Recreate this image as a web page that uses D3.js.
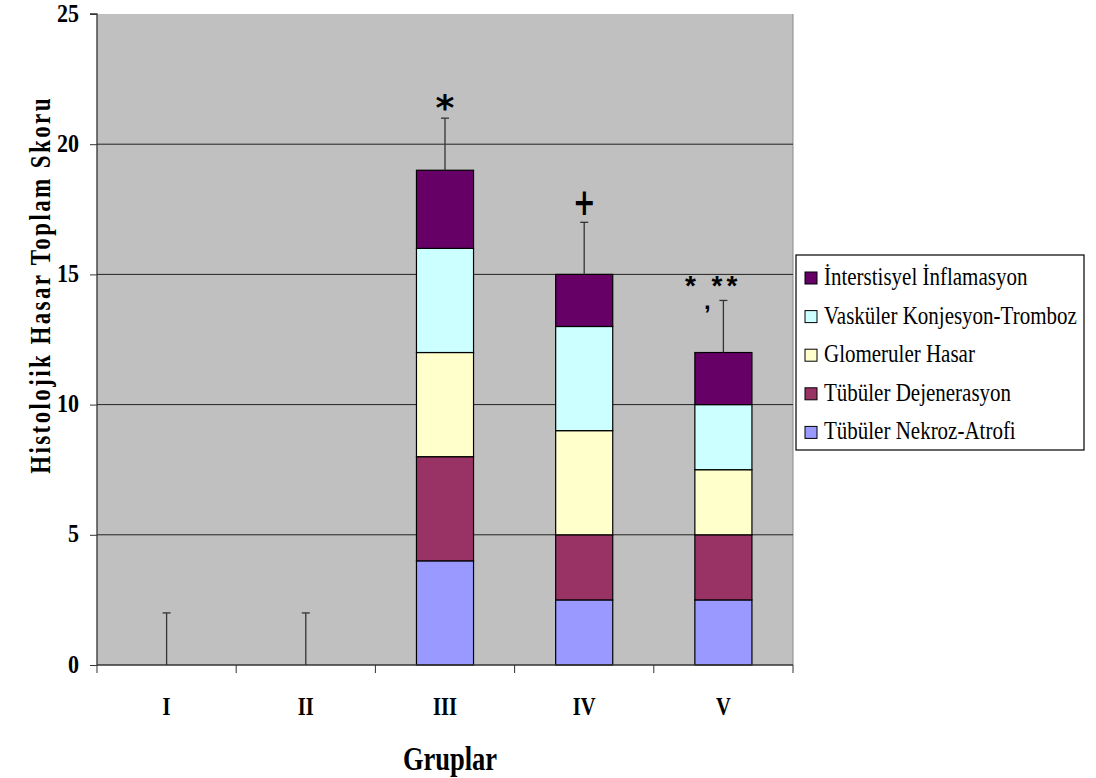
<!DOCTYPE html>
<html><head><meta charset="utf-8">
<script src="https://cdn.jsdelivr.net/npm/d3@7"></script>
<style>body{margin:0;background:#fff}svg{display:block}</style>
</head><body>
<svg id="c" width="1096" height="778"></svg>
<script>
const groups = ["I","II","III","IV","V"];
const seriesNames = ["Tübüler Nekroz-Atrofi","Tübüler Dejenerasyon","Glomeruler Hasar","Vasküler Konjesyon-Tromboz","İnterstisyel İnflamasyon"];
const nekroz       = [0,0,4,2.5,2.5];
const dejenerasyon = [0,0,4,2.5,2.5];
const glomeruler   = [0,0,4,4,2.5];
const vaskuler     = [0,0,4,4,2.5];
const interstisyel = [0,0,3,2,2];
const errorTop     = [2,2,21,17,14];
const yTicks = [0,5,10,15,20,25];
const colors = ["#9999FF","#993366","#FFFFCC","#CCFFFF","#660066"];

const svg = d3.select("#c");
const L=97,R=793,T=14,B=665;
const x = d3.scaleBand().domain(groups).range([L,R]).paddingInner(0.59).paddingOuter(0.295);
const xb = d3.scaleBand().domain(groups).range([L,R]);
const y = d3.scaleLinear().domain([0,25]).range([B,T]);

svg.append("rect").attr("x",L).attr("y",T).attr("width",R-L).attr("height",B-T).attr("fill","#C0C0C0");
svg.append("line").attr("x1",R).attr("x2",R).attr("y1",T).attr("y2",B).attr("stroke","#8a8a8a");
svg.append("g").selectAll("line").data(yTicks.filter(d=>d>0 && d<25)).join("line")
  .attr("x1",L).attr("x2",R).attr("y1",d=>y(d)).attr("y2",d=>y(d)).attr("stroke","#222").attr("stroke-width",1);

const rows = groups.map((g,i)=>({g, nekroz:nekroz[i], dejenerasyon:dejenerasyon[i], glomeruler:glomeruler[i], vaskuler:vaskuler[i], interstisyel:interstisyel[i]}));
const keys = ["nekroz","dejenerasyon","glomeruler","vaskuler","interstisyel"];
const stack = d3.stack().keys(keys)(rows);
svg.append("g").selectAll("g").data(stack).join("g").attr("fill",(d,i)=>colors[i])
  .selectAll("rect").data(d=>d.filter(p=>p[1]-p[0]>0)).join("rect")
  .attr("x",d=>x(d.data.g)).attr("width",x.bandwidth())
  .attr("y",d=>y(d[1])).attr("height",d=>y(d[0])-y(d[1]))
  .attr("stroke","#000").attr("stroke-width",1.2);

const eg = svg.append("g").attr("stroke","#333").attr("stroke-width",1.3);
groups.forEach((g,i)=>{
  const total = nekroz[i]+dejenerasyon[i]+glomeruler[i]+vaskuler[i]+interstisyel[i];
  const cx = x(g)+x.bandwidth()/2;
  eg.append("line").attr("x1",cx).attr("x2",cx).attr("y1",y(total)).attr("y2",y(errorTop[i]));
  eg.append("line").attr("x1",cx-4).attr("x2",cx+4).attr("y1",y(errorTop[i])).attr("y2",y(errorTop[i]));
});

const ya = svg.append("g").attr("transform",`translate(${L},0)`)
  .call(d3.axisLeft(y).tickValues(yTicks).tickSize(7).tickPadding(10));
ya.select(".domain").attr("stroke","#333").attr("stroke-width",1.3).attr("d",`M-7,${T}H0V${B}`);
ya.selectAll(".tick line").attr("stroke","#333");
ya.selectAll(".tick text").attr("x",null).attr("dy",null)
  .attr("transform","translate(-18,7) scale(1,1.1)")
  .style("font-family","'Liberation Serif',serif").style("font-weight","bold")
  .style("font-size","22px").attr("fill","#000");

const xa = svg.append("g").attr("transform",`translate(0,${B})`);
xa.append("line").attr("x1",L).attr("x2",R).attr("stroke","#333").attr("stroke-width",1.3);
xa.selectAll("line.t").data(d3.range(groups.length+1)).join("line").attr("class","t")
  .attr("x1",i=>L+i*xb.step()).attr("x2",i=>L+i*xb.step()).attr("y1",0).attr("y2",8).attr("stroke","#333");
xa.selectAll("text").data(groups).join("text")
  .attr("transform",d=>`translate(${xb(d)+xb.bandwidth()/2},50) scale(1,1.25)`)
  .attr("text-anchor","middle").style("font-family","'Liberation Serif',serif").style("font-weight","bold")
  .style("font-size","20.5px").text(d=>d);

svg.append("text").attr("transform","translate(450,770) scale(1,1.28)").attr("text-anchor","middle")
  .style("font-family","'Liberation Serif',serif").style("font-weight","bold").style("font-size","26.5px").text("Gruplar");
svg.append("text").attr("transform","translate(50,285) rotate(-90) scale(1,1.3)").attr("text-anchor","middle")
  .style("font-family","'Liberation Serif',serif").style("font-weight","bold").style("font-size","23px")
  .style("letter-spacing","2.4px").text("Histolojik Hasar Toplam Skoru");

// significance marks
const cxOf = g => x(g)+x.bandwidth()/2;
svg.append("text").attr("x",cxOf("III")).attr("y",y(errorTop[2])+2).attr("text-anchor","middle")
  .style("font-family","'DejaVu Sans',sans-serif").style("font-weight","bold").style("font-size","36px").text("*");
svg.append("text").attr("transform",`translate(${cxOf("IV")},${y(errorTop[3])-7}) scale(1,1.4)`).attr("text-anchor","middle")
  .style("font-family","'DejaVu Sans',sans-serif").style("font-size","27px").style("font-weight","bold").text("+");
const vg = svg.append("g").style("font-family","'Liberation Sans',sans-serif").style("font-weight","bold").style("font-size","28px").attr("text-anchor","middle");
vg.append("text").attr("x",cxOf("V")-33).attr("y",y(errorTop[4])-5).text("*");
vg.append("text").attr("x",cxOf("V")+3).attr("y",y(errorTop[4])-5).style("letter-spacing","4px").text("**");
vg.append("text").attr("x",cxOf("V")-16).attr("y",y(errorTop[4])+9).style("font-size","24px").text(",");

// legend
const lg = svg.append("g");
lg.append("rect").attr("x",796).attr("y",255).attr("width",288).attr("height",195).attr("fill","#fff").attr("stroke","#000").attr("stroke-width",1.2);
const legOrder = [4,3,2,1,0];
legOrder.forEach((k,j)=>{
  const cy = 278 + j*38.6;
  lg.append("rect").attr("x",805).attr("y",cy-6).attr("width",12).attr("height",12).attr("fill",colors[k]).attr("stroke","#000");
  lg.append("text").attr("transform",`translate(824,${cy+7}) scale(1,1.22)`)
    .style("font-family","'Liberation Serif',serif").style("font-size","21px").text(seriesNames[k]);
});
</script>
</body></html>
